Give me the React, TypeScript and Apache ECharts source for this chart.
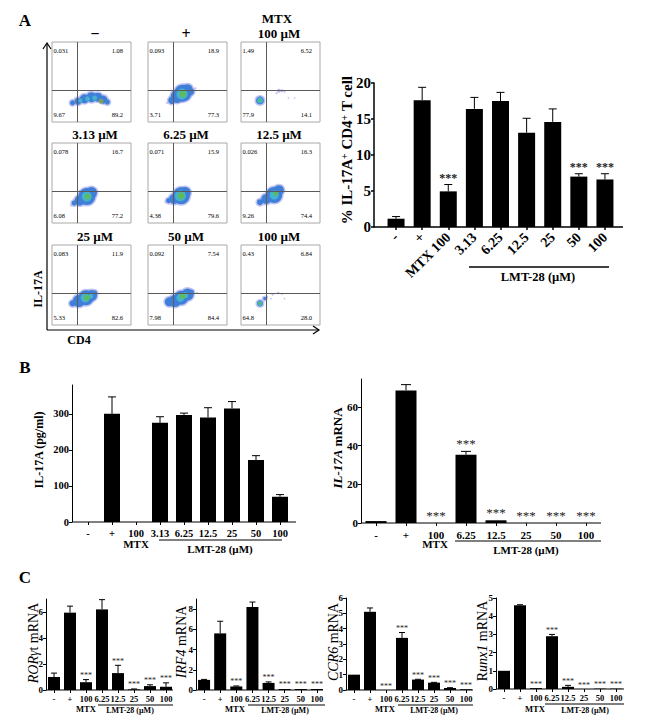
import React, { useEffect, useRef } from "react";
import * as echarts from "echarts";

const SERIF = "'Liberation Serif', 'Times New Roman', serif";

// ---------- data: flow plots ----------
const flowTitles = ["\u2212", "+", "100 \u00b5M", "3.13 \u00b5M", "6.25 \u00b5M", "12.5 \u00b5M", "25 \u00b5M", "50 \u00b5M", "100 \u00b5M"];
const flowTL = ["0.031", "0.093", "1.49", "0.078", "0.071", "0.026", "0.083", "0.092", "0.43"];
const flowTR = ["1.08", "18.9", "6.52", "16.7", "15.9", "16.3", "11.9", "7.54", "6.84"];
const flowBL = ["9.67", "3.71", "77.9", "6.08", "4.38", "9.26", "5.33", "7.98", "64.8"];
const flowBR = ["89.2", "77.3", "14.1", "77.2", "79.6", "74.4", "82.6", "84.4", "28.0"];
// each blob: percent x, percent y, dot diameter
const flowBlue = [
  [[26, 24, 5], [33, 26, 7], [41, 29, 9], [50, 31, 10], [58, 31, 9], [65, 28, 8], [70, 25, 5]],
  [[30, 27, 7], [37, 32, 13], [44, 36, 17], [50, 41, 10], [54, 38, 7]],
  [[24, 27, 8]],
  [[28, 25, 5], [35, 28, 10], [44, 33, 17], [50, 38, 11]],
  [[26, 28, 5], [33, 30, 10], [42, 34, 17], [47, 38, 11]],
  [[24, 26, 6], [32, 30, 10], [42, 35, 16], [48, 41, 10]],
  [[26, 27, 6], [34, 30, 12], [43, 34, 15], [50, 37, 11], [54, 40, 5]],
  [[27, 29, 9], [34, 30, 12], [42, 34, 14], [50, 38, 12], [55, 41, 5]],
  [[24, 27, 6], [30, 33, 3]],
];
const flowCyan = [
  [[45, 29, 5], [54, 30, 5], [36, 27, 4]],
  [[43, 35, 11]],
  [[24, 27, 6]],
  [[44, 33, 10]],
  [[41, 34, 11]],
  [[42, 35, 9]],
  [[42, 34, 9], [49, 36, 5]],
  [[41, 34, 8], [47, 37, 6]],
  [[24, 27, 5]],
];
const flowGreen = [
  [[62, 26, 5]],
  [[44, 35, 7]],
  [[24, 27, 3]],
  [[45, 33, 6]],
  [[42, 34, 7]],
  [[44, 37, 5]],
  [[44, 34, 6]],
  [[44, 36, 6]],
  [[24, 27, 3]],
];
const flowFaint = [
  [],
  [[60, 42, 2], [24, 24, 2]],
  [[45, 36, 2], [48, 39, 4], [52, 39, 3], [55, 38, 2], [60, 30, 1.5], [68, 30, 1.5]],
  [[24, 22, 2]],
  [[22, 26, 2]],
  [[22, 24, 2]],
  [[24, 26, 2]],
  [[62, 40, 2], [24, 28, 2]],
  [[33, 35, 2], [40, 38, 2], [47, 40, 2.5], [52, 39, 2], [38, 33, 1.5], [55, 33, 1.5]],
];

// ---------- data: bar charts ----------
const catsNine = ["-", "+", "MTX 100", "3.13", "6.25", "12.5", "25", "50", "100"];
const catsBLeft = ["-", "+", "100", "3.13", "6.25", "12.5", "25", "50", "100"];
const catsEight = ["-", "+", "100", "6.25", "12.5", "25", "50", "100"];

const pctValues = [1.15, 17.6, 4.95, 16.4, 17.5, 13.1, 14.6, 7.0, 6.6];
const pctTops = [1.45, 19.4, 5.9, 18.0, 18.7, 15.1, 16.4, 7.4, 7.4];
const pctStars = [0, 0, 1, 0, 0, 0, 0, 1, 1];

const pgValues = [0, 300, 0, 275, 297, 290, 315, 172, 70];
const pgTops = [0, 347, 0, 292, 302, 317, 334, 184, 76];
const pgStars = [0, 0, 0, 0, 0, 0, 0, 0, 0];

const il17Values = [1, 68.5, 0, 35.3, 1.4, 0, 0, 0];
const il17Tops = [1, 71.5, 0, 37, 1.4, 0, 0, 0];
const il17Stars = [0, 0, 1, 1, 1, 1, 1, 1];

const rorValues = [1, 5.95, 0.6, 6.2, 1.3, 0.05, 0.3, 0.25];
const rorTops = [1.3, 6.45, 0.8, 6.95, 1.9, 0.08, 0.4, 0.55];
const rorStars = [0, 0, 1, 0, 1, 1, 1, 1];

const irfValues = [1, 5.6, 0.35, 8.2, 0.7, 0.1, 0.1, 0.1];
const irfTops = [1.05, 6.8, 0.4, 8.7, 0.8, 0.1, 0.1, 0.1];
const irfStars = [0, 0, 1, 0, 1, 1, 1, 1];

const ccrValues = [1, 5.1, 0, 3.4, 0.68, 0.48, 0.13, 0.05];
const ccrTops = [1, 5.35, 0, 3.75, 0.7, 0.5, 0.15, 0.05];
const ccrStars = [0, 0, 1, 1, 1, 1, 1, 1];

const runxValues = [1, 4.6, 0.05, 2.9, 0.12, 0, 0.02, 0.02];
const runxTops = [1, 4.63, 0.05, 3.0, 0.2, 0, 0.02, 0.02];
const runxStars = [0, 0, 1, 1, 1, 1, 1, 1];

// ---------- layout ----------
const panelX = [52, 148, 241];
const panelY = [42, 143, 245];
const panelW = 79;
const panelH = 80;

type BarCfg = {
  cats: string[]; values: number[]; tops: number[]; stars: number[];
  axisX: number; band: [number, number]; xEnd: number; yTop: number; yZero: number;
  max: number; ticks: number[]; barW: number; capW: number;
  labelSize: number; labelWeight: string; tickSize: number; rotate?: number;
  starSize: number; starGap: number; starWeight: string; axisW: number; labelMargin: number;
};

const bars: BarCfg[] = [
  { cats: catsNine, values: pctValues, tops: pctTops, stars: pctStars, axisX: 374, band: [383, 618], xEnd: 623, yTop: 83, yZero: 227, max: 20, ticks: [0, 5, 10, 15, 20], barW: 17, capW: 8, labelSize: 14, labelWeight: "bold", tickSize: 15, rotate: 45, starSize: 12, starGap: 7, starWeight: "bold", axisW: 1.5, labelMargin: 8 },
  { cats: catsBLeft, values: pgValues, tops: pgTops, stars: pgStars, axisX: 72, band: [76, 292], xEnd: 296, yTop: 385, yZero: 522, max: 380, ticks: [0, 100, 200, 300], barW: 16, capW: 8, labelSize: 10.5, labelWeight: "bold", tickSize: 10.5, starSize: 12, starGap: 7, starWeight: "normal", axisW: 1, labelMargin: 6 },
  { cats: catsEight, values: il17Values, tops: il17Tops, stars: il17Stars, axisX: 361, band: [361, 601], xEnd: 601, yTop: 379, yZero: 523, max: 74.4, ticks: [0, 20, 40, 60], barW: 21, capW: 10, labelSize: 11, labelWeight: "bold", tickSize: 11, starSize: 13, starGap: 8, starWeight: "normal", axisW: 1, labelMargin: 6 },
  { cats: catsEight, values: rorValues, tops: rorTops, stars: rorStars, axisX: 46, band: [46, 174], xEnd: 173, yTop: 599, yZero: 690, max: 7, ticks: [0, 2, 4, 6], barW: 12, capW: 6, labelSize: 8.5, labelWeight: "bold", tickSize: 9, starSize: 8, starGap: 4, starWeight: "normal", axisW: 1, labelMargin: 4 },
  { cats: catsEight, values: irfValues, tops: irfTops, stars: irfStars, axisX: 196, band: [196, 325], xEnd: 323, yTop: 599, yZero: 690, max: 9, ticks: [0, 2, 4, 6, 8], barW: 12, capW: 6, labelSize: 8.5, labelWeight: "bold", tickSize: 9, starSize: 8, starGap: 4, starWeight: "normal", axisW: 1, labelMargin: 4 },
  { cats: catsEight, values: ccrValues, tops: ccrTops, stars: ccrStars, axisX: 346, band: [346, 474], xEnd: 473, yTop: 598, yZero: 690, max: 6, ticks: [0, 1, 2, 3, 4, 5, 6], barW: 12, capW: 6, labelSize: 8.5, labelWeight: "bold", tickSize: 9, starSize: 8, starGap: 4, starWeight: "normal", axisW: 1, labelMargin: 4 },
  { cats: catsEight, values: runxValues, tops: runxTops, stars: runxStars, axisX: 496, band: [496, 624], xEnd: 624, yTop: 598, yZero: 689, max: 5, ticks: [0, 1, 2, 3, 4, 5], barW: 12, capW: 6, labelSize: 8.5, labelWeight: "bold", tickSize: 9, starSize: 8, starGap: 4, starWeight: "normal", axisW: 1, labelMargin: 4 },
];

// ---------- helpers ----------
const txt = (text: string, x: number, y: number, size: number, extra: any = {}) => ({
  type: "text", x, y, silent: true,
  style: {
    text, fill: "#000", fontFamily: SERIF, fontSize: size, fontWeight: "bold",
    textAlign: "center", textVerticalAlign: "middle", verticalAlign: "middle", ...extra,
  },
});
const line = (x1: number, y1: number, x2: number, y2: number, w = 1, c = "#000") => ({
  type: "line", silent: true, shape: { x1, y1, x2, y2 }, style: { stroke: c, lineWidth: w },
});
const vText = (text: string, x: number, y: number, size: number, weight: string, italicSize?: number) => ({
  type: "text", x, y, rotation: Math.PI / 2, silent: true,
  style: {
    text, fill: "#000", fontFamily: SERIF, fontSize: size, fontWeight: weight,
    textAlign: "center", verticalAlign: "middle",
    rich: {
      i: { fontFamily: SERIF, fontSize: size, fontWeight: weight, fontStyle: "italic", fill: "#000" },
      n: { fontFamily: SERIF, fontSize: size, fontWeight: weight, fill: "#000" },
      s: { fontFamily: SERIF, fontSize: italicSize || size * 0.65, fontWeight: weight, fill: "#000", verticalAlign: "top" },
    },
  },
});

function buildOption() {
  const grid: any[] = [];
  const xAxis: any[] = [];
  const yAxis: any[] = [];
  const series: any[] = [];
  const graphic: any[] = [];

  // ---- flow panels ----
  flowTitles.forEach((title, i) => {
    const col = i % 3;
    const row = Math.floor(i / 3);
    const left = panelX[col];
    const top = panelY[row];
    const idx = grid.length;
    grid.push({ left, top, width: panelW, height: panelH, show: true, borderColor: "#a8a8a8", borderWidth: 1, backgroundColor: "#fff" });
    xAxis.push({ type: "value", gridIndex: idx, min: 0, max: 100, show: false });
    yAxis.push({ type: "value", gridIndex: idx, min: 0, max: 100, show: false });
    const layer = (data: number[][], color: string, opacity: number, grow = 0, extra: any = {}) => ({
      type: "scatter", xAxisIndex: idx, yAxisIndex: idx, data, silent: true,
      symbol: "circle", symbolSize: (v: number[]) => v[2] + grow,
      itemStyle: { color, opacity }, ...extra,
    });
    series.push(layer(flowFaint[i], "#b9b6ee", 0.9));
    series.push(layer(flowBlue[i], "#b4b8f0", 0.8, 3));
    series.push(layer(flowBlue[i], "#3f7fd8", 1));
    series.push(layer(flowCyan[i], "#43b4cf", 1));
    series.push(layer(flowGreen[i], i === 0 ? "#7f9f5a" : "#5cbb62", 1, 0, {
      markLine: {
        silent: true, symbol: "none", animation: false, label: { show: false },
        lineStyle: { color: "#5a5a5a", width: 1, type: "solid" },
        data: [{ xAxis: 32 }, { yAxis: 40 }],
      },
    }));
    const titleY = top - 9;
    const titleX = left + [43, 38, 38][col];
    graphic.push(txt(title, titleX, titleY, i < 2 ? 16 : 13));
    const lab = { fontSize: 6.5, fontWeight: "normal" };
    graphic.push(txt(flowTL[i], left + 1.5, top + 8, 6.5, { ...lab, textAlign: "left" }));
    graphic.push(txt(flowTR[i], left + panelW - 8, top + 8, 6.5, { ...lab, textAlign: "right" }));
    graphic.push(txt(flowBL[i], left + 1.5, top + panelH - 8, 6.5, { ...lab, textAlign: "left" }));
    graphic.push(txt(flowBR[i], left + panelW - 8, top + panelH - 8, 6.5, { ...lab, textAlign: "right" }));
  });
  graphic.push(txt("MTX", 277, 18, 13));
  // axis arrows
  graphic.push(line(47, 43, 47, 330, 1.2));
  graphic.push(line(47, 330, 319, 330, 1.2));
  graphic.push({ type: "polyline", silent: true, shape: { points: [[43, 49], [47, 43], [51, 49]] }, style: { stroke: "#000", lineWidth: 1.2, fill: "none" } });
  graphic.push({ type: "polyline", silent: true, shape: { points: [[313, 326], [319, 330], [313, 334]] }, style: { stroke: "#000", lineWidth: 1.2, fill: "none" } });
  graphic.push(vTextUp("IL-17A", 38, 289, 12));
  graphic.push(txt("CD4", 79, 340, 12));

  // ---- bars ----
  bars.forEach((b) => {
    const idx = grid.length;
    grid.push({ left: b.band[0], top: b.yTop, width: b.band[1] - b.band[0], height: b.yZero - b.yTop });
    xAxis.push({
      type: "category", gridIndex: idx, data: b.cats, boundaryGap: true,
      axisLine: { show: false },
      axisTick: { show: true, alignWithLabel: true, length: 3, lineStyle: { color: "#000", width: b.axisW } },
      axisLabel: {
        interval: 0, rotate: b.rotate || 0, margin: b.labelMargin, color: "#000",
        fontFamily: SERIF, fontSize: b.labelSize, fontWeight: b.labelWeight,
      },
    });
    yAxis.push({
      type: "value", gridIndex: idx, min: 0, max: b.max, offset: b.band[0] - b.axisX,
      splitLine: { show: false },
      axisLine: { show: true, onZero: false, lineStyle: { color: "#000", width: b.axisW } },
      axisTick: { show: true, length: 3, customValues: b.ticks, lineStyle: { color: "#000", width: b.axisW } },
      axisLabel: { customValues: b.ticks, margin: 3, color: "#000", fontFamily: SERIF, fontSize: b.tickSize, fontWeight: "bold" },
    });
    graphic.push(line(b.axisX, b.yZero, b.xEnd, b.yZero, b.axisW));
    series.push({
      type: "bar", xAxisIndex: idx, yAxisIndex: idx, data: b.values, barWidth: b.barW, silent: true,
      itemStyle: { color: "#000" },
    });
    series.push({
      type: "custom", xAxisIndex: idx, yAxisIndex: idx, silent: true, clip: false,
      encode: { x: 0, y: 1 },
      data: b.values.map((v, i) => [i, v, b.tops[i], b.stars[i]]),
      renderItem: (_p: any, api: any) => {
        const i = api.value(0);
        const base = api.coord([i, api.value(1)]);
        const top = api.coord([i, api.value(2)]);
        const children: any[] = [];
        if (api.value(2) > api.value(1)) {
          const st = { stroke: "#000", lineWidth: 1 };
          children.push({ type: "line", shape: { x1: base[0], y1: base[1], x2: top[0], y2: top[1] }, style: st });
          children.push({ type: "line", shape: { x1: top[0] - b.capW / 2, y1: top[1], x2: top[0] + b.capW / 2, y2: top[1] }, style: st });
        }
        if (api.value(3)) {
          children.push({
            type: "text", x: top[0], y: top[1] - b.starGap,
            style: { text: "***", fill: "#222", fontFamily: SERIF, fontSize: b.starSize, fontWeight: b.starWeight, textAlign: "center", verticalAlign: "middle" },
          });
        }
        return { type: "group", children };
      },
    });
  });

  // axis titles and brackets
  graphic.push(vTextUp("% IL-17A{s|+} CD4{s|+} T cell", 347, 150, 15));
  graphic.push(line(469, 267, 609, 267, 1.5));
  graphic.push(txt("LMT-28 (\u00b5M)", 538, 277, 12.5));

  graphic.push(vTextUp("IL-17A (pg/ml)", 39, 450, 12));
  graphic.push(txt("MTX", 136, 544, 11));
  graphic.push(line(159, 540, 282, 540, 1));
  graphic.push(txt("LMT-28 (\u00b5M)", 220, 549, 11));

  graphic.push(vTextUp("{i|IL-17A} mRNA", 337, 448, 13));
  graphic.push(txt("MTX", 435, 544, 11));
  graphic.push(line(455, 541, 601, 541, 1));
  graphic.push(txt("LMT-28 (\u00b5M)", 526, 550, 11));

  const small: [string, number, number, number, number, number, number, number][] = [
    ["{i|ROR\u03b3}{n|t mRNA}", 33, 643, 86, 98, 173, 705, 130],
    ["{i|IRF4} {n|mRNA}", 181, 642, 235, 248, 325, 705, 285],
    ["{i|CCR6} {n|mRNA}", 333, 642, 385, 398, 473, 705, 434],
    ["{n|R}{i|unx1} {n|mRNA}", 482, 641, 535, 545, 624, 704, 585],
  ];
  small.forEach(([name, nx, ny, mx, l1, l2, ly, lc]) => {
    graphic.push(vTextUp(name, nx, ny, 14, "normal"));
    graphic.push(txt("MTX", mx, 709, 8.5));
    graphic.push(line(l1, ly, l2, ly, 1));
    graphic.push(txt("LMT-28 (\u00b5M)", lc, 710, 8));
  });

  // panel letters
  graphic.push(txt("A", 25, 20, 17));
  graphic.push(txt("B", 25, 367, 17));
  graphic.push(txt("C", 25, 577, 17));

  return {
    animation: false,
    backgroundColor: "#fff",
    grid, xAxis, yAxis, series,
    graphic: { elements: graphic },
  };
}

function vTextUp(text: string, x: number, y: number, size: number, weight = "bold") {
  return vText(text, x, y, size, weight);
}

export default function App() {
  const ref = useRef<HTMLDivElement>(null);
  useEffect(() => {
    document.body.style.margin = "0";
    const chart = echarts.init(ref.current!, undefined, { renderer: "svg" });
    chart.setOption(buildOption() as any);
    return () => chart.dispose();
  }, []);
  return <div ref={ref} style={{ width: 645, height: 720 }} />;
}
